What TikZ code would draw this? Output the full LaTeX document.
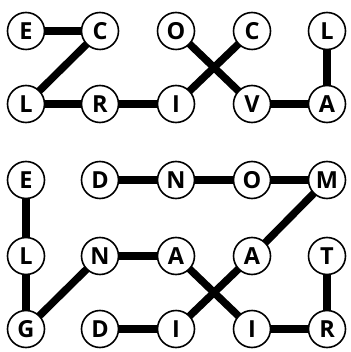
\documentclass[tikz,border=0pt]{standalone}
\usepackage{fontspec}
\setsansfont{Open Sans}
\usetikzlibrary{backgrounds}
\newcommand\letterfont{\sffamily\bfseries\fontsize{23.5}{24}\selectfont}

\begin{document}
\begin{tikzpicture}[x=1pt, y=-1pt,
    letter/.style={circle, draw=black, line width=1.6pt, fill=white, minimum size=37pt, inner sep=0pt,
                   font=\letterfont},
    link/.style={line width=7.5pt}]
  \useasboundingbox (0,0) rectangle (350,352);
  % ---- letter grid: column/row/letter ----
  \foreach \c/\x in {1/26, 2/100, 3/176, 4/252, 5/327} {
    \foreach \r/\y/\row in {1/31/{E,C,O,C,L}, 2/104/{L,R,I,V,A}, 3/180/{E,D,N,O,M}, 4/256/{L,N,A,A,T}, 5/329/{G,D,I,I,R}} {
      \foreach \t [count=\k] in \row {
        \ifnum\k=\c
          \node[letter] (p\r\c) at (\x,\y) {\t};
        \fi
      }
    }
  }
  % ---- links behind the letters ----
  \begin{scope}[on background layer]
    \foreach \a/\b in {p11/p12, p12/p21, p21/p22, p22/p23, p23/p14, p13/p24, p24/p25, p25/p15,
                       p31/p41, p41/p51, p51/p42, p42/p43, p43/p54, p54/p55, p55/p45,
                       p32/p33, p33/p34, p34/p35, p35/p44, p44/p53, p53/p52} {
      \draw[link] (\a.center) -- (\b.center);
    }
  \end{scope}
\end{tikzpicture}
\end{document}
